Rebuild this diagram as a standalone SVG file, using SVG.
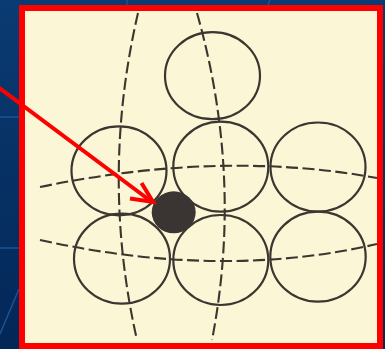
<svg xmlns="http://www.w3.org/2000/svg" width="385" height="349" viewBox="0 0 385 349">
  <defs>
    <linearGradient id="bg" x1="0" y1="0" x2="0" y2="1">
      <stop offset="0" stop-color="#0a3b72"/>
      <stop offset="1" stop-color="#032757"/>
    </linearGradient>
    <style>
      .ring { fill: none; stroke: #3b362f; stroke-width: 2.2; }
      .dot { fill: #3a3532; }
      .guide { fill: none; stroke: #3b362f; stroke-width: 2.1; stroke-dasharray: 12 4.5; }
      .grid { stroke: #1d5295; stroke-width: 1.5; fill: none; }
      .arrow { fill: none; stroke: #ff0000; stroke-width: 4; stroke-linecap: butt; stroke-linejoin: miter; }
    </style>
  </defs>

  <!-- slide background -->
  <rect x="0" y="0" width="385" height="349" fill="url(#bg)"/>
  <g id="slide-grid">
    <line class="grid" x1="0" y1="117" x2="20" y2="117"/>
    <line class="grid" x1="0" y1="248" x2="20" y2="248"/>
    <line class="grid" x1="0" y1="334" x2="19" y2="289"/>
    <line class="grid" x1="127" y1="0" x2="127" y2="5"/>
    <line class="grid" x1="270" y1="0" x2="268" y2="5"/>
  </g>

  <!-- scanned page with red frame -->
  <rect x="22" y="8" width="358" height="338" fill="#fbf6d6" stroke="#ff0000" stroke-width="6"/>

  <g id="guides">
    <path class="guide" d="M138,13 Q100,177 137,340"/>
    <path class="guide" d="M197,13 Q243.5,177 212,340"/>
    <path class="guide" d="M40,187 Q221,149.5 377,178"/>
    <path class="guide" d="M40,240 Q221.5,280 377,244"/>
  </g>

  <g id="circle-top"><ellipse class="ring" cx="212.5" cy="75.7" rx="47.5" ry="43.5"/></g>
  <g id="circle-mid-left"><ellipse class="ring" cx="119" cy="170.8" rx="47.5" ry="44.5"/></g>
  <g id="circle-mid-center"><ellipse class="ring" cx="220.8" cy="166.7" rx="47.5" ry="45"/></g>
  <g id="circle-mid-right"><ellipse class="ring" cx="318" cy="167" rx="47.5" ry="44.5"/></g>
  <g id="circle-bot-left"><ellipse class="ring" cx="122" cy="258.7" rx="48" ry="45"/></g>
  <g id="circle-bot-center"><ellipse class="ring" cx="220.8" cy="260" rx="47.5" ry="45"/></g>
  <g id="circle-bot-right"><ellipse class="ring" cx="318" cy="256.7" rx="47.7" ry="45"/></g>
  <g id="black-dot"><ellipse class="dot" cx="173.7" cy="212.3" rx="22" ry="21"/></g>

  <g id="connectors">
    <path class="arrow" d="M-2,87 L152,202"/>
    <path class="arrow" d="M130,198.5 L153,202 L141.5,183"/>
  </g>
</svg>
